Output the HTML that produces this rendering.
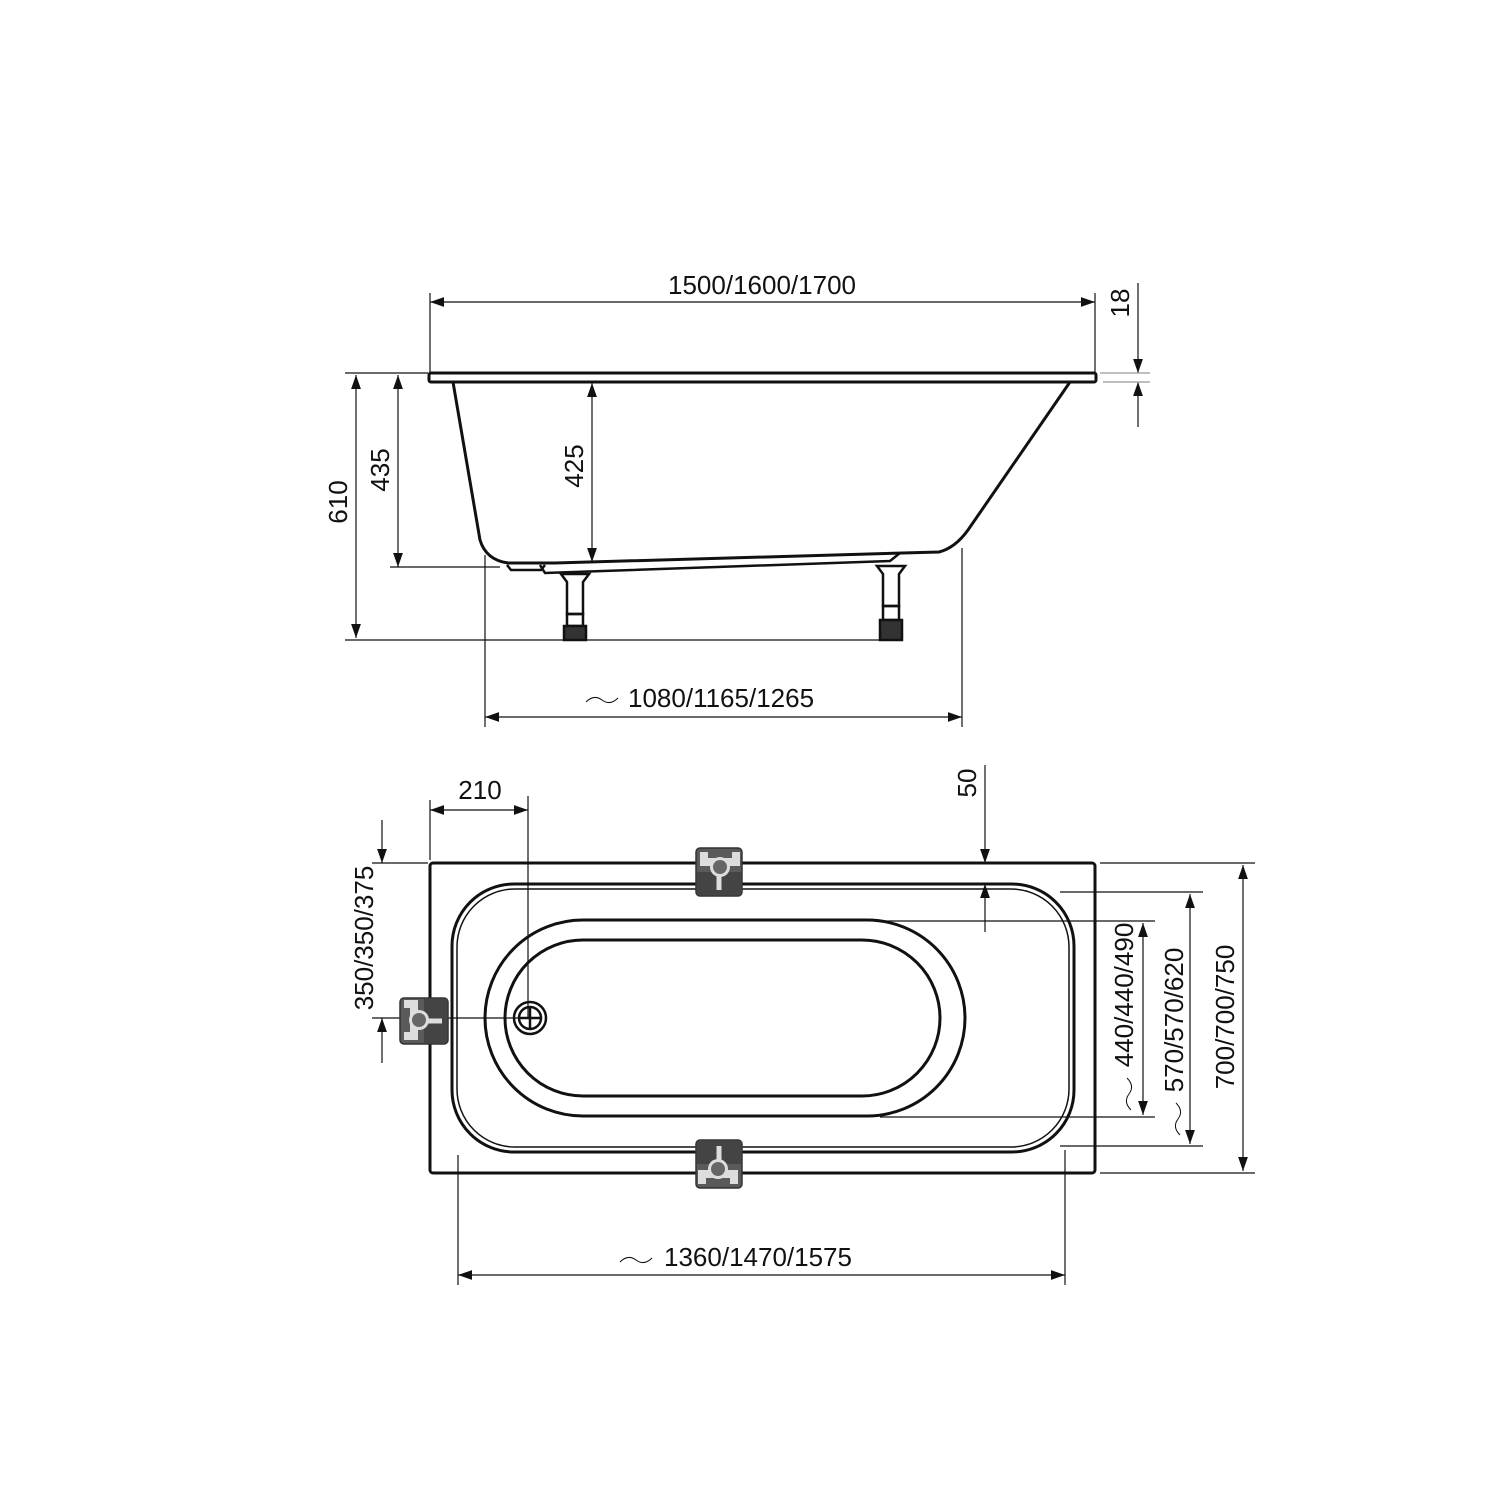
<!DOCTYPE html>
<html><head><meta charset="utf-8"><style>html,body{margin:0;padding:0;background:#fff}svg{display:block}</style></head>
<body>
<svg width="1500" height="1500" viewBox="0 0 1500 1500" xmlns="http://www.w3.org/2000/svg" font-family="Liberation Sans, sans-serif" font-size="26" fill="#111">
<defs>
<marker id="a" viewBox="0 0 10 10" refX="10" refY="5" markerWidth="16" markerHeight="14" markerUnits="userSpaceOnUse" orient="auto-start-reverse"><path d="M0,1.5L10,5L0,8.5z" fill="#111"/></marker>
<g id="br">
<rect x="-23" y="-24" width="46" height="48" rx="4" fill="#5a5a5a" stroke="#333" stroke-width="1.5"/>
<rect x="-22" y="0" width="44" height="23" fill="#444"/>
<path d="M-19,-20 h8 v6 h24 v-6 h8 v14 h-40 z" fill="#ddd"/>
<rect x="-2.5" y="-2" width="5" height="20" fill="#ddd"/>
<circle cx="1" cy="-5" r="10" fill="#ddd"/>
<circle cx="1" cy="-5" r="7" fill="#666"/>
</g>
</defs>
<g stroke="#111" fill="none" stroke-width="1.2">
<!-- SIDE VIEW -->
<line x1="430" y1="293" x2="430" y2="372"/>
<line x1="1095" y1="293" x2="1095" y2="372"/>
<line x1="430" y1="302" x2="1095" y2="302" marker-start="url(#a)" marker-end="url(#a)"/>
<line x1="1138" y1="283" x2="1138" y2="373" marker-end="url(#a)"/>
<line x1="1138" y1="427" x2="1138" y2="382" marker-end="url(#a)"/>
<line x1="1100" y1="373" x2="1150" y2="373" stroke="#999"/>
<line x1="1103" y1="382" x2="1150" y2="382" stroke="#999"/>
<line x1="345" y1="373" x2="428" y2="373"/>
<line x1="356" y1="375" x2="356" y2="638" marker-start="url(#a)" marker-end="url(#a)"/>
<line x1="398" y1="375" x2="398" y2="567" marker-start="url(#a)" marker-end="url(#a)"/>
<line x1="592" y1="383" x2="592" y2="562" marker-start="url(#a)" marker-end="url(#a)"/>
<line x1="390" y1="567" x2="500" y2="567"/>
<line x1="345" y1="640" x2="885" y2="640"/>
<line x1="485" y1="555" x2="485" y2="727"/>
<line x1="962" y1="548" x2="962" y2="727"/>
<line x1="485" y1="717" x2="962" y2="717" marker-start="url(#a)" marker-end="url(#a)"/>
<path d="M586,702 q8,-8 16,-2 t16,-2" stroke-width="1"/>
<!-- tub -->
<rect x="429" y="373" width="667" height="9" rx="2" stroke-width="3" fill="#fff"/>
<path d="M453,382 L480,540 Q486,560 508,563 L555,563 L939,552 Q955,548 968,530 L1070,382" stroke-width="3"/>
<path d="M507,565 l4,5 h30 l4,-5 M540,565 l5,8 l345,-12 l10,-8" stroke-width="2.5"/>
<!-- legs -->
<g stroke-width="2.5">
<path d="M561,574 h28 l-6,8 v32 h-16 v-32 z"/>
<rect x="567" y="614" width="16" height="12"/>
<rect x="564" y="626" width="22" height="14" fill="#333"/>
<path d="M877,566 h28 l-6,8 v32 h-16 v-32 z"/>
<rect x="883" y="606" width="16" height="14"/>
<rect x="880" y="620" width="22" height="20" fill="#333"/>
</g>
<!-- PLAN VIEW -->
<line x1="430" y1="800" x2="430" y2="860"/>
<line x1="528" y1="796" x2="528" y2="1018"/>
<line x1="430" y1="810" x2="528" y2="810" marker-start="url(#a)" marker-end="url(#a)"/>
<line x1="372" y1="863" x2="428" y2="863"/>
<line x1="372" y1="1018" x2="520" y2="1018"/>
<line x1="382" y1="820" x2="382" y2="863" marker-end="url(#a)"/>
<line x1="382" y1="1063" x2="382" y2="1018" marker-end="url(#a)"/>
<line x1="985" y1="765" x2="985" y2="863" marker-end="url(#a)"/>
<line x1="985" y1="932" x2="985" y2="884" marker-end="url(#a)"/>
<line x1="1100" y1="863" x2="1255" y2="863"/>
<line x1="1100" y1="1173" x2="1255" y2="1173"/>
<line x1="1243" y1="865" x2="1243" y2="1171" marker-start="url(#a)" marker-end="url(#a)"/>
<line x1="1060" y1="892" x2="1203" y2="892"/>
<line x1="1060" y1="1146" x2="1203" y2="1146"/>
<line x1="1190" y1="894" x2="1190" y2="1144" marker-start="url(#a)" marker-end="url(#a)"/>
<line x1="880" y1="921" x2="1155" y2="921"/>
<line x1="880" y1="1117" x2="1155" y2="1117"/>
<line x1="1143" y1="923" x2="1143" y2="1115" marker-start="url(#a)" marker-end="url(#a)"/>
<line x1="458" y1="1155" x2="458" y2="1285"/>
<line x1="1065" y1="1150" x2="1065" y2="1285"/>
<line x1="458" y1="1275" x2="1065" y2="1275" marker-start="url(#a)" marker-end="url(#a)"/>
<path d="M620,1262 q8,-8 16,-2 t16,-2" stroke-width="1"/>
<path d="M1131,1110 q-8,-8 -2,-16 t-2,-16" stroke-width="1"/>
<path d="M1180,1135 q-8,-8 -2,-16 t-2,-16" stroke-width="1"/>
<rect x="430" y="863" width="665" height="310" rx="3" stroke-width="3"/>
<rect x="452" y="884" width="622" height="268" rx="62" stroke-width="3"/>
<rect x="457" y="889" width="612" height="258" rx="58" stroke-width="1.5"/>
<rect x="485" y="920" width="480" height="196" rx="98" stroke-width="3"/>
<rect x="505" y="940" width="435" height="156" rx="78" stroke-width="3"/>
<circle cx="530" cy="1018" r="16" stroke-width="2.5"/>
<circle cx="530" cy="1018" r="11" stroke-width="2.5"/>
<path d="M519,1018h22M530,1007v22" stroke-width="2.5"/>
</g>
<use href="#br" transform="translate(719,872)"/>
<use href="#br" transform="translate(719,1164) rotate(180)"/>
<use href="#br" transform="translate(424,1021) rotate(-90)"/>
<!-- labels -->
<text x="762" y="294" text-anchor="middle">1500/1600/1700</text>
<text transform="translate(1129,303) rotate(-90)" text-anchor="middle">18</text>
<text transform="translate(347,502) rotate(-90)" text-anchor="middle">610</text>
<text transform="translate(389,470) rotate(-90)" text-anchor="middle">435</text>
<text transform="translate(583,466) rotate(-90)" text-anchor="middle">425</text>
<text x="628" y="707">1080/1165/1265</text>
<text x="480" y="799" text-anchor="middle">210</text>
<text transform="translate(976,783) rotate(-90)" text-anchor="middle">50</text>
<text transform="translate(373,938) rotate(-90)" text-anchor="middle">350/350/375</text>
<text transform="translate(1133,995) rotate(-90)" text-anchor="middle">440/440/490</text>
<text transform="translate(1183,1020) rotate(-90)" text-anchor="middle">570/570/620</text>
<text transform="translate(1234,1017) rotate(-90)" text-anchor="middle">700/700/750</text>
<text x="664" y="1266">1360/1470/1575</text>
</svg>
</body></html>
